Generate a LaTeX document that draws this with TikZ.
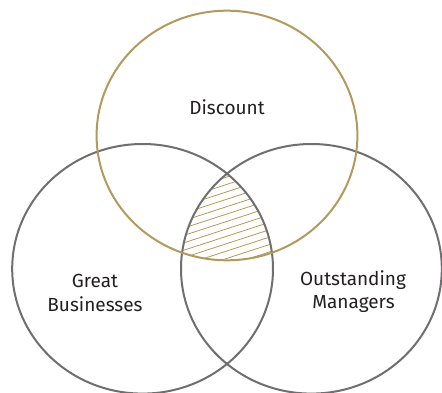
\documentclass[tikz,border=0pt]{standalone}
\usepackage{fontspec}
\setmainfont{Fira Sans}
\usetikzlibrary{calc}
\definecolor{gold}{RGB}{178,154,94}
\definecolor{ring}{RGB}{112,110,112}
\definecolor{ink}{RGB}{35,31,32}
\begin{document}
\begin{tikzpicture}[x=1pt,y=-1pt,
  greyring/.style={draw=ring,line width=2pt},
  goldring/.style={draw=gold,line width=2pt},
  lbl/.style={text=ink,font=\fontsize{19}{24}\selectfont,align=center,inner sep=0pt,anchor=base},
  hatch/.style={draw=gold,line width=0.8pt}]
\useasboundingbox (0,0) rectangle (442,393);
\coordinate (T) at (227,135.5);
\coordinate (L) at (142.6,268.8);
\coordinate (R) at (311.4,268.8);
\begin{scope}
  \clip (T) ellipse [x radius=130.4, y radius=124.8];
  \clip (L) ellipse [x radius=130.4, y radius=124.8];
  \clip (R) ellipse [x radius=130.4, y radius=124.8];
  \foreach \k in {-12,...,12}
    \draw[hatch] (150,{222+\k*7.4+24.4}) -- (300,{222+\k*7.4-24.4});
\end{scope}
\draw[greyring] (L) ellipse [x radius=130.4, y radius=124.8];
\draw[greyring] (R) ellipse [x radius=130.4, y radius=124.8];
\draw[goldring] (T) ellipse [x radius=130.4, y radius=124.8];
\node[lbl] (disc) at (227,115) {Discount};
\node[lbl] (great) at (95,287.3) {Great};
\node[lbl] (bus) at (95,311.7) {Businesses};
\node[lbl] (out) at (353,285) {Outstanding};
\node[lbl] (man) at (353.5,308.3) {Managers};
\end{tikzpicture}
\end{document}
